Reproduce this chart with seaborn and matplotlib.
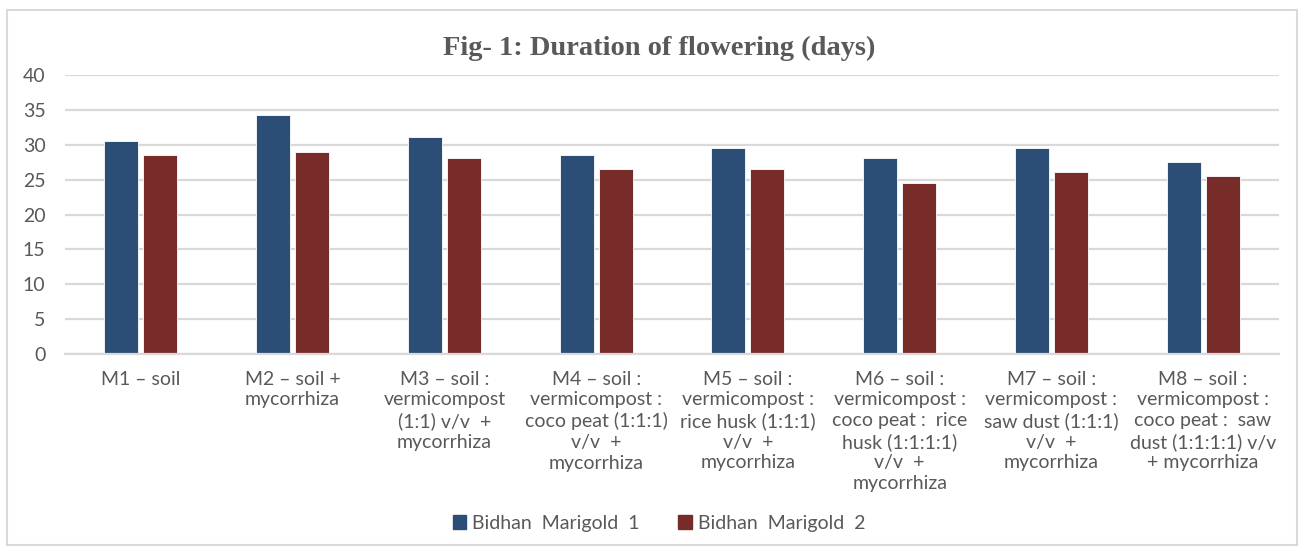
import pandas as pd
import matplotlib.pyplot as plt
import seaborn as sns
from matplotlib.patches import Rectangle

# Chart data
treatments = [
    'M1 \u2013 soil',
    'M2 \u2013 soil +\nmycorrhiza',
    'M3 \u2013 soil :\nvermicompost\n(1:1) v/v  +\nmycorrhiza',
    'M4 \u2013 soil :\nvermicompost :\ncoco peat (1:1:1)\nv/v  +\nmycorrhiza',
    'M5 \u2013 soil :\nvermicompost :\nrice husk (1:1:1)\nv/v  +\nmycorrhiza',
    'M6 \u2013 soil :\nvermicompost :\ncoco peat :  rice\nhusk (1:1:1:1)\nv/v  +\nmycorrhiza',
    'M7 \u2013 soil :\nvermicompost :\nsaw dust (1:1:1)\nv/v  +\nmycorrhiza',
    'M8 \u2013 soil :\nvermicompost :\ncoco peat :  saw\ndust (1:1:1:1) v/v\n+ mycorrhiza',
]
series_names = ['Bidhan  Marigold  1', 'Bidhan  Marigold  2']
marigold_1 = [30.5, 34.2, 31.1, 28.5, 29.5, 28.1, 29.5, 27.5]
marigold_2 = [28.5, 29.0, 28.1, 26.5, 26.5, 24.5, 26.1, 25.5]
y_ticks = [0, 5, 10, 15, 20, 25, 30, 35, 40]

df = pd.DataFrame({
    'treatment': treatments * 2,
    'variety': [series_names[0]] * len(treatments) + [series_names[1]] * len(treatments),
    'days': marigold_1 + marigold_2,
})

sns.set_style('white')
plt.rcParams['font.family'] = ['Lato', 'DejaVu Sans']
text_col = '#595959'
palette = {series_names[0]: '#2C4D75', series_names[1]: '#772C2A'}

fig = plt.figure(figsize=(13.05, 5.47), dpi=100)
ax = fig.add_axes([65 / 1305, 1 - 354 / 547, 1214 / 1305, 279 / 547])

sns.barplot(data=df, x='treatment', y='days', hue='variety', palette=palette,
            width=0.514, gap=0.13, saturation=1, ax=ax, legend=False,
            edgecolor='white', linewidth=0.6)

ax.set_ylim(0, 40)
ax.set_xlim(-0.5, len(treatments) - 0.5)
ax.set_yticks(y_ticks)
ax.yaxis.grid(True, color='#D9D9D9', linewidth=1.6)
ax.set_axisbelow(True)
for s in ['top', 'right', 'left']:
    ax.spines[s].set_visible(False)
ax.spines['bottom'].set_color('#D9D9D9')
ax.spines['bottom'].set_linewidth(1.6)
ax.tick_params(axis='both', length=0, colors=text_col, labelsize=14)
ax.tick_params(axis='y', pad=14)
ax.tick_params(axis='x', pad=12)
for lbl in ax.get_xticklabels():
    lbl.set_linespacing(1.26)
    lbl.set_horizontalalignment('center')
ax.set_xlabel('')
ax.set_ylabel('')

fig.text(0.505, 1 - 48 / 547, 'Fig- 1: Duration of flowering (days)', ha='center', va='center',
         fontsize=20.5, fontweight='bold', family='Liberation Serif', color=text_col)

handles = [Rectangle((0, 0), 1, 1, color=palette[n]) for n in series_names]
fig.legend(handles, series_names, loc='center', bbox_to_anchor=(0.505, 1 - 523 / 547),
           ncol=2, frameon=False, fontsize=14, labelcolor=text_col,
           handlelength=0.7, handleheight=0.7, handletextpad=0.3, columnspacing=2.0)

# outer chart border
fig.patches.append(Rectangle((7 / 1305, 2 / 547), 1290 / 1305, 535 / 547, transform=fig.transFigure,
                             fill=False, edgecolor='#D9D9D9', linewidth=1.5))

fig.savefig('out.png', dpi=100)
